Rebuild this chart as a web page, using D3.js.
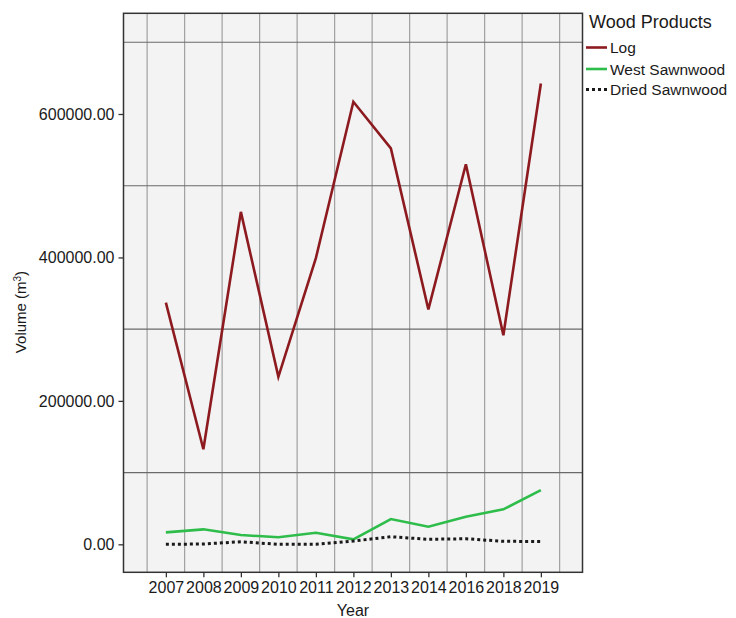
<!DOCTYPE html>
<html>
<head>
<meta charset="utf-8">
<script src="https://cdn.jsdelivr.net/npm/d3@7"></script>
<style>
  html, body { margin: 0; padding: 0; background: #ffffff; }
  svg { display: block; font-family: "Liberation Sans", Arial, sans-serif; }
</style>
</head>
<body>
<svg id="chart" width="736" height="618"></svg>
<script>
// ---- data ----
const years = ["2007","2008","2009","2010","2011","2012","2013","2014","2016","2018","2019"];
const logValues = [337000, 132500, 463500, 233500, 399000, 617000, 552000, 327500, 530000, 291500, 642500];
const westSawnwood = [16700, 20900, 13000, 9800, 16200, 7000, 35300, 24500, 38500, 48800, 75700];
const driedSawnwood = [0, 500, 3600, 0, 0, 4600, 10600, 7000, 7800, 4200, 4000];
const yTicks = [0, 200000, 400000, 600000];
const yGridValues = [100000, 300000, 500000, 700000];
const seriesNames = ["Log", "West Sawnwood", "Dried Sawnwood"];
const seriesColors = ["#8c1a1f", "#2ebd4a", "#1a1a1a"];

const series = [
  { name: seriesNames[0], values: logValues, color: seriesColors[0], dash: null, width: 2.6 },
  { name: seriesNames[1], values: westSawnwood, color: seriesColors[1], dash: null, width: 2.6 },
  { name: seriesNames[2], values: driedSawnwood, color: seriesColors[2], dash: "3,3", width: 3 }
];

const svg = d3.select("#chart");
const L = 123.5, R = 582.5, T = 13.3, B = 572.3;

const x = d3.scaleLinear().domain([-1.13, 11.11]).range([L, R]);
const y = d3.scaleLinear().domain([-39000, 740400]).range([B, T]);

// panel background
svg.append("rect").attr("x", L).attr("y", T).attr("width", R - L).attr("height", B - T)
  .attr("fill", "#f3f3f3");

// vertical grid lines (between categories)
const vGrid = d3.range(years.length + 1).map(i => i - 0.5);
svg.append("g").selectAll("line").data(vGrid).join("line")
  .attr("x1", d => x(d)).attr("x2", d => x(d))
  .attr("y1", T).attr("y2", B)
  .attr("stroke", "#a0a0a0").attr("stroke-width", 1.2);

// horizontal grid lines
svg.append("g").selectAll("line").data(yGridValues).join("line")
  .attr("x1", L).attr("x2", R)
  .attr("y1", d => y(d)).attr("y2", d => y(d))
  .attr("stroke", "#6a6a6a").attr("stroke-width", 1.1);

// lines
const lineGen = d3.line().x((d, i) => x(i)).y(d => y(d));
series.forEach(s => {
  svg.append("path").datum(s.values)
    .attr("d", lineGen)
    .attr("fill", "none")
    .attr("stroke", s.color)
    .attr("stroke-width", s.width)
    .attr("stroke-dasharray", s.dash)
    .attr("stroke-linejoin", "miter");
});

// panel border
svg.append("rect").attr("x", L).attr("y", T).attr("width", R - L).attr("height", B - T)
  .attr("fill", "none").attr("stroke", "#333333").attr("stroke-width", 1.5);

// y axis
const yAxis = d3.axisLeft(y).tickValues(yTicks).tickFormat(d3.format(".2f")).tickSize(5).tickPadding(4);
const gy = svg.append("g").attr("transform", `translate(${L},0)`).call(yAxis);
gy.select(".domain").remove();
gy.selectAll(".tick line").attr("stroke", "#333").attr("stroke-width", 1.3);
gy.selectAll(".tick text").attr("fill", "#1a1a1a").style("font-size", "16px")
  .style("font-family", "'Liberation Sans', Arial, sans-serif");

// x axis
const xAxis = d3.axisBottom(x).tickValues(d3.range(years.length)).tickFormat(i => years[i]).tickSize(5).tickPadding(4);
const gx = svg.append("g").attr("transform", `translate(0,${B})`).call(xAxis);
gx.select(".domain").remove();
gx.selectAll(".tick line").attr("stroke", "#333").attr("stroke-width", 1.3);
gx.selectAll(".tick text").attr("fill", "#1a1a1a").style("font-size", "16px")
  .style("font-family", "'Liberation Sans', Arial, sans-serif");

// axis titles
svg.append("text").attr("x", (L + R) / 2).attr("y", 616)
  .attr("text-anchor", "middle").attr("fill", "#1a1a1a")
  .style("font-size", "16px").text("Year");

const yt = svg.append("text")
  .attr("transform", `translate(26,312) rotate(-90)`)
  .attr("text-anchor", "middle").attr("fill", "#1a1a1a")
  .style("font-size", "15px");
yt.append("tspan").text("Volume (m");
yt.append("tspan").attr("dy", -5).style("font-size", "10px").text("3");
yt.append("tspan").attr("dy", 5).text(")");

// legend
const lg = svg.append("g");
lg.append("text").attr("x", 589).attr("y", 28)
  .attr("fill", "#1a1a1a").style("font-size", "18px").text("Wood Products");
const rowY = [47.5, 69, 89.5];
series.forEach((s, i) => {
  lg.append("line").attr("x1", 586).attr("x2", 607)
    .attr("y1", rowY[i]).attr("y2", rowY[i])
    .attr("stroke", s.color).attr("stroke-width", s.width)
    .attr("stroke-dasharray", s.dash);
  lg.append("text").attr("x", 610).attr("y", rowY[i]).attr("dy", "0.36em")
    .attr("fill", "#1a1a1a").style("font-size", "15.5px").text(s.name);
});
</script>
</body>
</html>
